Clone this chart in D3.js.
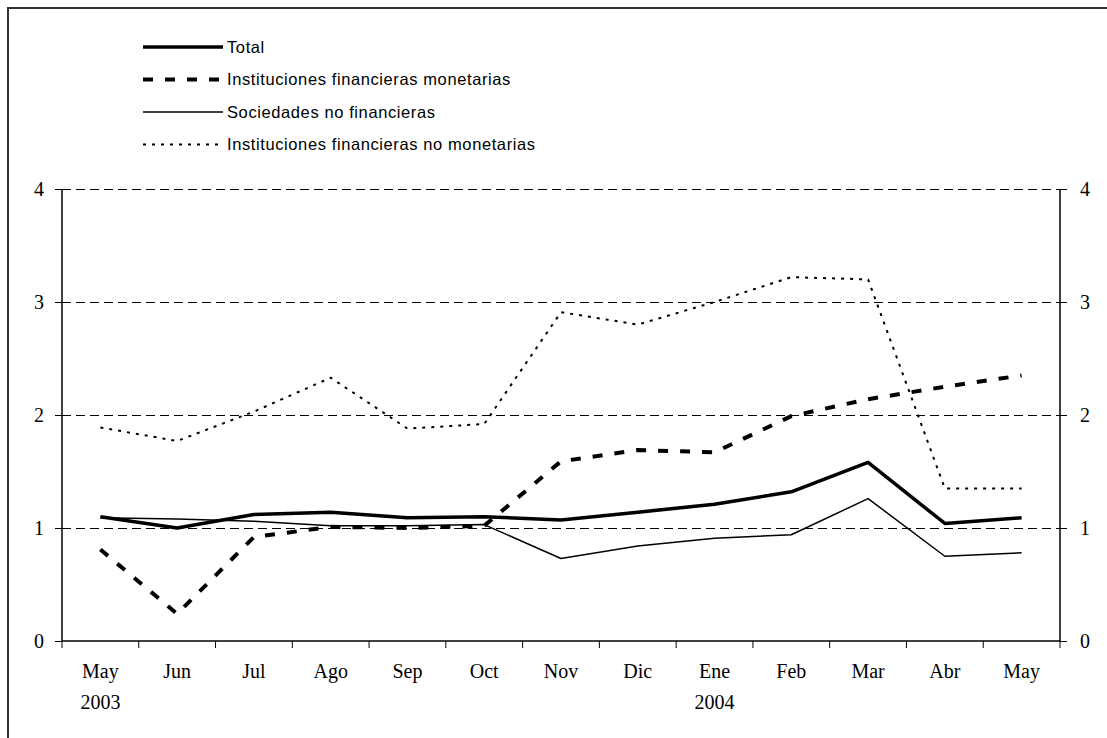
<!DOCTYPE html>
<html>
<head>
<meta charset="utf-8">
<script src="https://cdn.jsdelivr.net/npm/d3@7"></script>
<style>
  body { margin: 0; background: #fff; }
  svg { display: block; }
</style>
</head>
<body>
<script>
const months = ['May', 'Jun', 'Jul', 'Ago', 'Sep', 'Oct', 'Nov', 'Dic', 'Ene', 'Feb', 'Mar', 'Abr', 'May'];
const years = {0: '2003', 8: '2004'};
const yTicks = [0, 1, 2, 3, 4];

const total      = [1.10, 1.00, 1.12, 1.14, 1.09, 1.10, 1.07, 1.14, 1.21, 1.32, 1.58, 1.04, 1.09];
const ifm        = [0.81, 0.24, 0.92, 1.01, 1.00, 1.02, 1.59, 1.69, 1.67, 1.99, 2.14, 2.25, 2.35];
const sociedades = [1.09, 1.08, 1.06, 1.02, 1.02, 1.03, 0.73, 0.84, 0.91, 0.94, 1.26, 0.75, 0.78];
const ifnm       = [1.89, 1.77, 2.03, 2.33, 1.88, 1.92, 2.91, 2.80, 3.00, 3.22, 3.20, 1.35, 1.35];

const series = [
  {name: 'Total', values: total, width: 3.5, dash: null},
  {name: 'Instituciones financieras monetarias', values: ifm, width: 4, dash: '10,12'},
  {name: 'Sociedades no financieras', values: sociedades, width: 1.5, dash: null},
  {name: 'Instituciones financieras no monetarias', values: ifnm, width: 2, dash: '3,6'}
];

const W = 1107, H = 738;
const plot = {left: 62, right: 1060, top: 189, bottom: 641};

const svg = d3.select('body').append('svg')
  .attr('width', W)
  .attr('height', H);

// outer frame (only top and left edges are visible in the picture)
svg.append('rect')
  .attr('x', 8).attr('y', 8)
  .attr('width', W + 20).attr('height', H + 20)
  .attr('fill', 'none')
  .attr('stroke', '#333')
  .attr('stroke-width', 2);

const x = d3.scaleBand().domain(d3.range(months.length)).range([plot.left, plot.right]);
const y = d3.scaleLinear().domain([0, 4]).range([plot.bottom, plot.top]);

// gridlines
svg.append('g')
  .selectAll('line')
  .data(yTicks.filter(d => d > 0))
  .join('line')
    .attr('x1', plot.left).attr('x2', plot.right)
    .attr('y1', d => Math.round(y(d)) + 0.5).attr('y2', d => Math.round(y(d)) + 0.5)
    .attr('stroke', '#000')
    .attr('stroke-width', 1)
    .attr('stroke-dasharray', '9,5');

const serif = '"Liberation Serif", "Times New Roman", serif';

// left and right axes
const yl = svg.append('g')
  .attr('transform', `translate(${plot.left},0)`)
  .call(d3.axisLeft(y).tickValues(yTicks).tickFormat(d3.format('d')).tickSize(7).tickPadding(11));
const yr = svg.append('g')
  .attr('transform', `translate(${plot.right},0)`)
  .call(d3.axisRight(y).tickValues(yTicks).tickFormat(d3.format('d')).tickSize(7).tickPadding(13));

[yl, yr].forEach(g => {
  g.select('.domain').attr('stroke', '#000').attr('stroke-width', 1.5).attr('d', `M0,${plot.bottom}V${plot.top}`);
  g.selectAll('.tick line').attr('stroke', '#000');
  g.selectAll('.tick text')
    .attr('font-family', serif)
    .attr('font-size', 20)
    .attr('fill', '#000');
});

// bottom axis, ticks on band edges
const xb = svg.append('g')
  .attr('transform', `translate(0,${plot.bottom})`);
xb.append('line')
  .attr('x1', plot.left).attr('x2', plot.right)
  .attr('stroke', '#000').attr('stroke-width', 1.5);
xb.selectAll('line.tk')
  .data(d3.range(months.length + 1))
  .join('line')
    .attr('class', 'tk')
    .attr('x1', i => plot.left + i * x.step()).attr('x2', i => plot.left + i * x.step())
    .attr('y1', 0).attr('y2', 7)
    .attr('stroke', '#000');
xb.selectAll('text.m')
  .data(months)
  .join('text')
    .attr('class', 'm')
    .attr('x', (d, i) => x(i) + x.bandwidth() / 2)
    .attr('y', 37)
    .attr('text-anchor', 'middle')
    .attr('font-family', serif)
    .attr('font-size', 20)
    .text(d => d);
xb.selectAll('text.yr')
  .data(Object.entries(years))
  .join('text')
    .attr('class', 'yr')
    .attr('x', d => x(+d[0]) + x.bandwidth() / 2)
    .attr('y', 68)
    .attr('text-anchor', 'middle')
    .attr('font-family', serif)
    .attr('font-size', 20)
    .text(d => d[1]);

// lines
const line = d3.line()
  .x((d, i) => x(i) + x.bandwidth() / 2)
  .y(d => y(d));

svg.append('g')
  .selectAll('path')
  .data(series)
  .join('path')
    .attr('d', d => line(d.values))
    .attr('fill', 'none')
    .attr('stroke', '#000')
    .attr('stroke-width', d => d.width)
    .attr('stroke-dasharray', d => d.dash)
    .attr('stroke-linejoin', 'round');

// legend
const legend = svg.append('g')
  .selectAll('g')
  .data(series)
  .join('g')
    .attr('transform', (d, i) => `translate(143,${47 + i * 32.5})`);
legend.append('line')
  .attr('x1', 0).attr('x2', 80)
  .attr('stroke', '#000')
  .attr('stroke-width', d => d.width)
  .attr('stroke-dasharray', d => d.dash);
legend.append('text')
  .attr('x', 84)
  .attr('dy', '0.35em')
  .attr('font-family', '"Liberation Sans", Arial, sans-serif')
  .attr('font-size', 16.5)
  .attr('letter-spacing', 0.6)
  .text(d => d.name);
</script>
</body>
</html>
